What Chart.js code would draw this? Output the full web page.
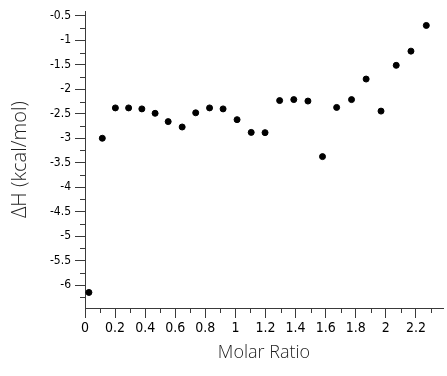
<!DOCTYPE html>
<html>
<head>
<meta charset="utf-8">
<title>Molar Ratio vs ΔH</title>
<script src="https://cdn.jsdelivr.net/npm/chart.js@4.4.1/dist/chart.umd.min.js"></script>
<style>
  html, body { margin: 0; padding: 0; background: #fff; }
  #wrap { width: 447px; height: 376px; }
</style>
</head>
<body>
<div id="wrap"><canvas id="itcChart" width="447" height="376"></canvas></div>
<script>
// values
var molarRatio = [0.026, 0.115, 0.202, 0.290, 0.378, 0.466, 0.553, 0.646, 0.736, 0.828,
                  0.918, 1.011, 1.105, 1.197, 1.294, 1.388, 1.482, 1.579, 1.673, 1.772,
                  1.869, 1.968, 2.069, 2.167, 2.269];
var deltaH = [-6.15, -3.00, -2.38, -2.38, -2.40, -2.49, -2.66, -2.77, -2.48, -2.38,
              -2.40, -2.62, -2.88, -2.885, -2.23, -2.21, -2.24, -3.375, -2.37, -2.21,
              -1.79, -2.445, -1.51, -1.22, -0.695];

var xTicks = [0, 0.2, 0.4, 0.6, 0.8, 1, 1.2, 1.4, 1.6, 1.8, 2, 2.2];
var yTicks = [-6, -5.5, -5, -4.5, -4, -3.5, -3, -2.5, -2, -1.5, -1, -0.5];

var axisColor = '#3a3a3a';
var tickFont = "'Liberation Sans Narrow', 'DejaVu Sans Condensed', 'Arial Narrow', sans-serif";
var titleFont = "'Open Sans', sans-serif";

var points = [];
for (var i = 0; i <= molarRatio.length - 1; i++) {
    points.push({ x: molarRatio[i], y: deltaH[i] });
}

// short ticks halfway between the labelled ones
var minorTicks = {
    id: 'minorTicks',
    afterDraw: function (chart) {
        var ctx = chart.ctx;
        var sx = chart.scales.x;
        var sy = chart.scales.y;
        ctx.save();
        ctx.strokeStyle = axisColor;
        ctx.lineWidth = 1;
        ctx.beginPath();
        for (var i = 0; i <= xTicks.length - 1; i++) {
            var v = xTicks[i] + 0.1;
            if (v > sx.max) continue;
            var px = Math.round(sx.getPixelForValue(v)) + 0.5;
            ctx.moveTo(px, sx.top);
            ctx.lineTo(px, sx.top + 5);
        }
        for (var j = 0; j <= yTicks.length - 1; j++) {
            var w = yTicks[j] - 0.25;
            if (w < sy.min) continue;
            var py = Math.round(sy.getPixelForValue(w)) + 0.5;
            ctx.moveTo(sy.right, py);
            ctx.lineTo(sy.right - 5, py);
        }
        ctx.stroke();
        ctx.restore();
    }
};

new Chart(document.getElementById('itcChart'), {
    type: 'scatter',
    data: {
        datasets: [{
            label: 'ΔH',
            data: points,
            backgroundColor: '#000',
            borderColor: '#000',
            pointRadius: 3,
            pointHoverRadius: 3
        }]
    },
    options: {
        responsive: false,
        animation: false,
        layout: { padding: { top: 10, right: 1, left: 0, bottom: 0 } },
        plugins: {
            legend: { display: false },
            tooltip: { enabled: false }
        },
        scales: {
            x: {
                type: 'linear',
                min: 0,
                max: 2.38,
                afterFit: function (s) { s.height = 68; },
                afterBuildTicks: function (s) {
                    s.ticks = xTicks.map(function (v) { return { value: v }; });
                },
                border: { display: true, color: axisColor, width: 1 },
                grid: { drawOnChartArea: false, drawTicks: true, tickLength: 10, color: axisColor },
                ticks: {
                    padding: 2,
                    color: '#000',
                    maxRotation: 0,
                    autoSkip: false,
                    font: { family: tickFont, size: 14 },
                    callback: function (v) { return String(Math.round(v * 10) / 10); }
                },
                title: {
                    display: true,
                    text: 'Molar Ratio',
                    color: '#1e1e1e',
                    font: { family: titleFont, size: 18, weight: '300' },
                    padding: { top: 0, bottom: 12 }
                }
            },
            y: {
                type: 'linear',
                min: -6.468,
                max: -0.404,
                afterFit: function (s) { s.width = 85; },
                afterBuildTicks: function (s) {
                    s.ticks = yTicks.map(function (v) { return { value: v }; });
                },
                border: { display: true, color: axisColor, width: 1 },
                grid: { drawOnChartArea: false, drawTicks: true, tickLength: 10, color: axisColor },
                ticks: {
                    padding: 4,
                    color: '#000',
                    autoSkip: false,
                    font: { family: tickFont, size: 12 },
                    callback: function (v) { return String(Math.round(v * 10) / 10); }
                },
                title: {
                    display: true,
                    text: 'ΔH (kcal/mol)',
                    color: '#1e1e1e',
                    font: { family: titleFont, size: 20, weight: '300' },
                    padding: { top: 8, bottom: 0 }
                }
            }
        }
    },
    plugins: [minorTicks]
});
</script>
</body>
</html>
